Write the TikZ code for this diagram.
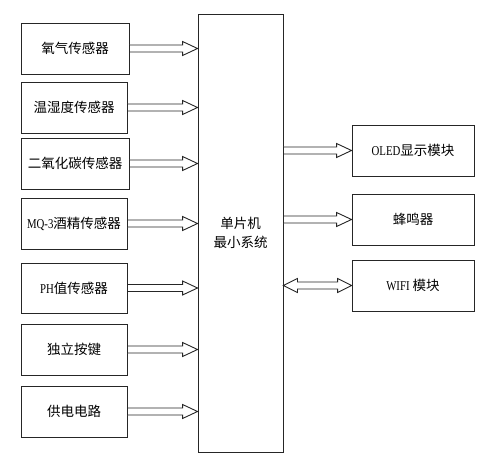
\documentclass[tikz,border=0pt]{standalone}
\usepackage{fontspec}
\setmainfont{Noto Sans CJK SC}
\newfontfamily\latf[FakeStretch=0.8]{Liberation Serif}
\usetikzlibrary{calc}
\tikzset{
  box/.style={draw=black!85, line width=0.9pt, minimum height=51pt, inner sep=0pt, font=\fontsize{13.5pt}{19pt}\selectfont, align=center},
  lbox/.style={box, minimum width=106pt},
  rbox/.style={box, minimum width=122pt},
  arr/.style={draw=black!85, line width=0.9pt, fill=white, line join=miter}
}
\newcommand\fatarr[2]{%
  \path let \p1=(#1), \p2=(#2.west |- #1) in
    [arr] (\x1,\y1+3.5pt) -- (\x2-15pt,\y1+3.5pt) -- (\x2-15pt,\y1+7pt) -- (\x2,\y1)
    -- (\x2-15pt,\y1-7pt) -- (\x2-15pt,\y1-3.5pt) -- (\x1,\y1-3.5pt) -- cycle;}
\newcommand\dblarr[2]{%
  \path let \p1=(#1), \p2=(#2.west |- #1) in
    [arr] (\x1,\y1) -- (\x1+14pt,\y1+7pt) -- (\x1+14pt,\y1+3.5pt) -- (\x2-14pt,\y1+3.5pt)
    -- (\x2-14pt,\y1+7pt) -- (\x2,\y1) -- (\x2-14pt,\y1-7pt) -- (\x2-14pt,\y1-3.5pt)
    -- (\x1+14pt,\y1-3.5pt) -- (\x1+14pt,\y1-7pt) -- cycle;}
\begin{document}
\begin{tikzpicture}[x=1pt,y=-1pt]
\useasboundingbox (0,0) rectangle (489,462);
\node[box, minimum width=85pt, minimum height=438pt] (mcu) at (240.5,233) {单片机\\最小系统};
\node[lbox, minimum width=108pt] (o2) at (75,48.5) {氧气传感器};
\node[lbox] (th) at (74,107.5) {温湿度传感器};
\node[lbox, minimum width=108pt] (co2) at (75,163.5) {二氧化碳传感器};
\node[lbox] (mq) at (74,223.5) {{\latf MQ-3}酒精传感器};
\node[lbox, minimum height=50pt] (ph) at (74,288) {{\latf PH}值传感器};
\node[lbox] (key) at (74,349.5) {独立按键};
\node[lbox] (pwr) at (74,411.5) {供电电路};
\node[rbox] (oled) at (413,150.5) {{\latf OLED}显示模块};
\node[rbox] (buz) at (413,219.5) {蜂鸣器};
\node[rbox] (wifi) at (413,285.5) {{\latf WIFI} 模块};
\coordinate (m1) at (mcu.east |- oled);
\coordinate (m2) at (mcu.east |- buz);
\coordinate (m3) at (mcu.east |- wifi);
\fatarr{o2.east}{mcu}
\fatarr{th.east}{mcu}
\fatarr{co2.east}{mcu}
\fatarr{mq.east}{mcu}
\fatarr{ph.east}{mcu}
\fatarr{key.east}{mcu}
\fatarr{pwr.east}{mcu}
\fatarr{m1}{oled}
\fatarr{m2}{buz}
\dblarr{m3}{wifi}
\end{tikzpicture}
\end{document}
